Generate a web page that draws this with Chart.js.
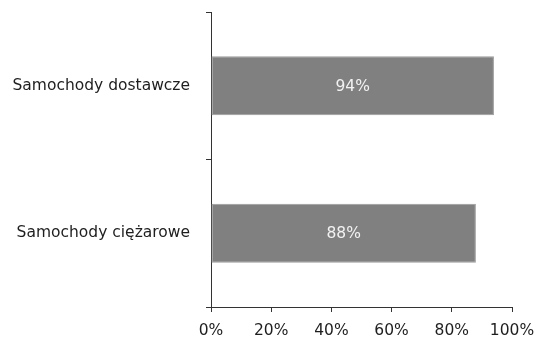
<!DOCTYPE html>
<html>
<head>
<meta charset="utf-8">
<script src="https://cdn.jsdelivr.net/npm/chart.js@4"></script>
<style>
  html, body { margin: 0; padding: 0; background: #fff; }
  #wrap { width: 536px; height: 338px; }
</style>
</head>
<body>
<div id="wrap"><canvas id="chart" width="536" height="338"></canvas></div>
<script>
// dane z wykresu
const categories = ['Samochody dostawcze', 'Samochody ciężarowe'];
const values = [94, 88];
const xTicks = [0, 20, 40, 60, 80, 100];

const axisColor = '#333333';
const textColor = '#1e1e1e';
const fontFamily = '"DejaVu Sans", Verdana, sans-serif';
const fontSize = 15.5;

// etykiety wartości w środku słupków
const barLabels = {
  id: 'barLabels',
  afterDatasetsDraw(chart) {
    const ctx = chart.ctx;
    const meta = chart.getDatasetMeta(0);
    ctx.save();
    ctx.font = fontSize + 'px ' + fontFamily;
    ctx.fillStyle = '#f2f2f2';
    ctx.textAlign = 'center';
    ctx.textBaseline = 'middle';
    meta.data.forEach((bar, i) => {
      const cx = (bar.x + bar.base) / 2;
      ctx.fillText(values[i] + '%', cx, bar.y + 1);
    });
    ctx.restore();
  }
};

new Chart(document.getElementById('chart').getContext('2d'), {
  type: 'bar',
  data: {
    labels: categories,
    datasets: [{
      data: values,
      backgroundColor: '#808080',
      borderColor: '#9c9c9c',
      borderWidth: 1,
      borderSkipped: false,
      categoryPercentage: 1,
      barPercentage: 0.4
    }]
  },
  options: {
    indexAxis: 'y',
    responsive: false,
    animation: false,
    layout: { padding: { top: 12, right: 24, left: 0, bottom: 0 } },
    scales: {
      x: {
        min: 0,
        max: 100,
        afterBuildTicks: (scale) => { scale.ticks = xTicks.map(v => ({ value: v })); },
        afterFit: (scale) => {
          scale.height = 31;
          scale.paddingLeft = 0;
          scale.paddingRight = 0;
        },
        border: { color: axisColor, width: 1 },
        grid: { drawOnChartArea: false, color: axisColor, tickLength: 5 },
        ticks: {
          color: textColor,
          padding: 10,
          font: { size: fontSize, family: fontFamily },
          callback: (v) => v + '%'
        }
      },
      y: {
        offset: true,
        afterFit: (scale) => {
          scale.width = 211;
          scale.paddingTop = 0;
          scale.paddingBottom = 0;
        },
        border: { color: axisColor, width: 1 },
        grid: { offset: true, drawOnChartArea: false, color: axisColor, tickLength: 5 },
        ticks: {
          color: textColor,
          padding: 16,
          font: { size: fontSize, family: fontFamily }
        }
      }
    },
    plugins: {
      legend: { display: false },
      tooltip: { enabled: false }
    }
  },
  plugins: [barLabels]
});
</script>
</body>
</html>
